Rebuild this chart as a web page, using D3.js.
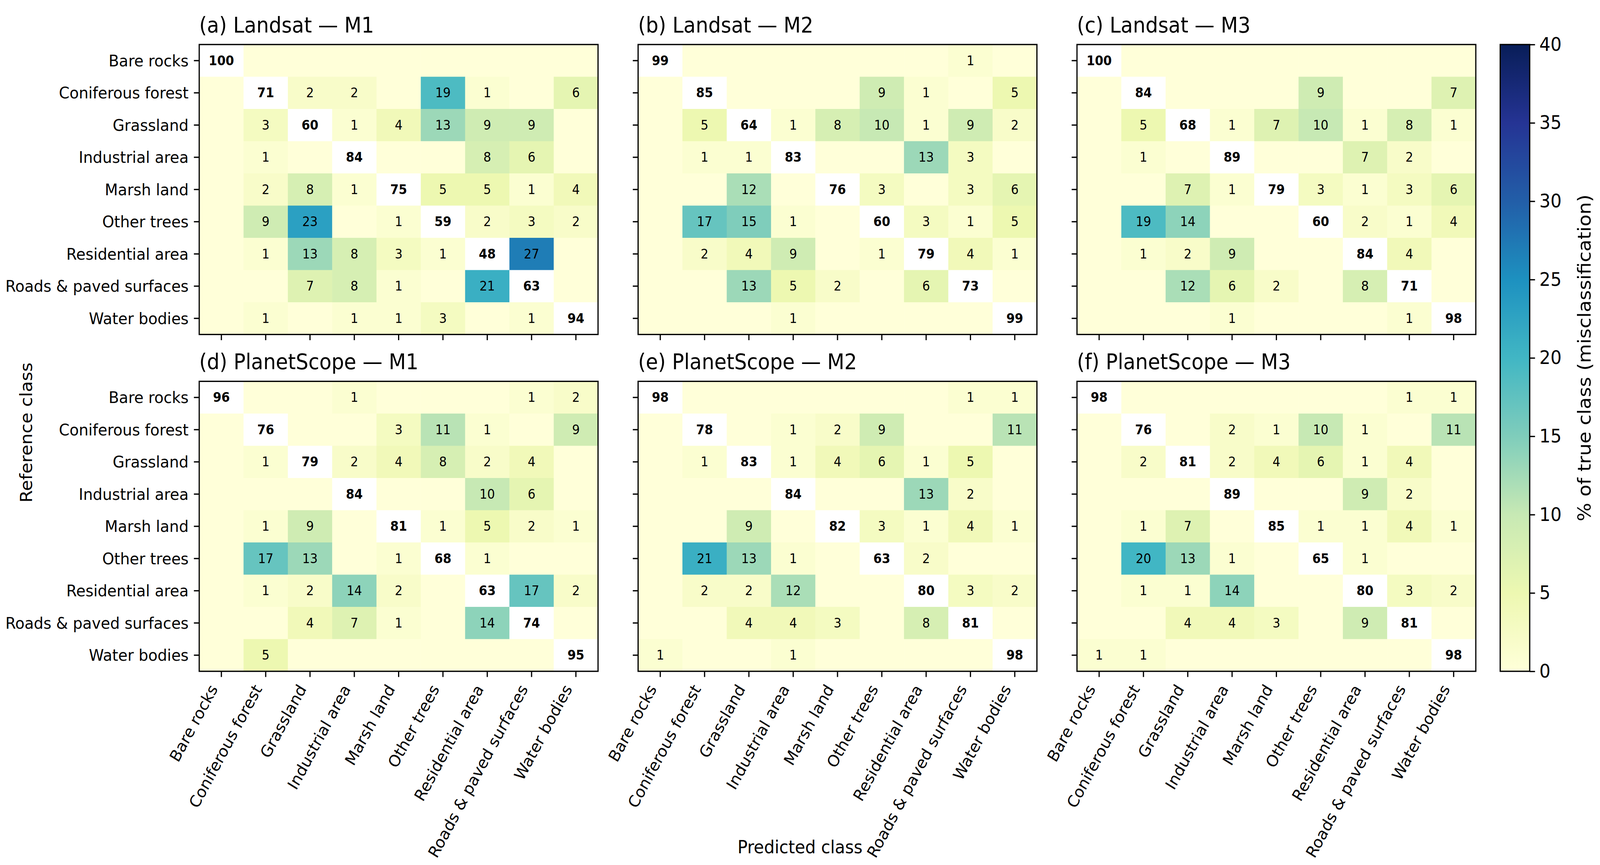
<!DOCTYPE html>
<html>
<head>
<meta charset="utf-8">
<script src="https://cdn.jsdelivr.net/npm/d3@7/dist/d3.min.js"></script>
<style>
  html, body { margin: 0; padding: 0; background: #ffffff; overflow: hidden; width: 100%; height: 100%; }
  svg { display: block; }
  text { font-family: "DejaVu Sans", sans-serif; fill: #000; }
</style>
</head>
<body>
<script>
// ---------------- DATA ----------------
const classes = ["Bare rocks", "Coniferous forest", "Grassland", "Industrial area", "Marsh land",
  "Other trees", "Residential area", "Roads & paved surfaces", "Water bodies"];

const panelTitles = ["(a) Landsat — M1", "(b) Landsat — M2", "(c) Landsat — M3",
  "(d) PlanetScope — M1", "(e) PlanetScope — M2", "(f) PlanetScope — M3"];

// rows = reference class, columns = predicted class (% of true class)
const landsatM1 = [
  [100, 0, 0, 0, 0, 0, 0, 0, 0],
  [0, 71, 2, 2, 0, 19, 1, 0, 6],
  [0, 3, 60, 1, 4, 13, 9, 9, 0],
  [0, 1, 0, 84, 0, 0, 8, 6, 0],
  [0, 2, 8, 1, 75, 5, 5, 1, 4],
  [0, 9, 23, 0, 1, 59, 2, 3, 2],
  [0, 1, 13, 8, 3, 1, 48, 27, 0],
  [0, 0, 7, 8, 1, 0, 21, 63, 0],
  [0, 1, 0, 1, 1, 3, 0, 1, 94]
];
const landsatM2 = [
  [99, 0, 0, 0, 0, 0, 0, 1, 0],
  [0, 85, 0, 0, 0, 9, 1, 0, 5],
  [0, 5, 64, 1, 8, 10, 1, 9, 2],
  [0, 1, 1, 83, 0, 0, 13, 3, 0],
  [0, 0, 12, 0, 76, 3, 0, 3, 6],
  [0, 17, 15, 1, 0, 60, 3, 1, 5],
  [0, 2, 4, 9, 0, 1, 79, 4, 1],
  [0, 0, 13, 5, 2, 0, 6, 73, 0],
  [0, 0, 0, 1, 0, 0, 0, 0, 99]
];
const landsatM3 = [
  [100, 0, 0, 0, 0, 0, 0, 0, 0],
  [0, 84, 0, 0, 0, 9, 0, 0, 7],
  [0, 5, 68, 1, 7, 10, 1, 8, 1],
  [0, 1, 0, 89, 0, 0, 7, 2, 0],
  [0, 0, 7, 1, 79, 3, 1, 3, 6],
  [0, 19, 14, 0, 0, 60, 2, 1, 4],
  [0, 1, 2, 9, 0, 0, 84, 4, 0],
  [0, 0, 12, 6, 2, 0, 8, 71, 0],
  [0, 0, 0, 1, 0, 0, 0, 1, 98]
];
const planetM1 = [
  [96, 0, 0, 1, 0, 0, 0, 1, 2],
  [0, 76, 0, 0, 3, 11, 1, 0, 9],
  [0, 1, 79, 2, 4, 8, 2, 4, 0],
  [0, 0, 0, 84, 0, 0, 10, 6, 0],
  [0, 1, 9, 0, 81, 1, 5, 2, 1],
  [0, 17, 13, 0, 1, 68, 1, 0, 0],
  [0, 1, 2, 14, 2, 0, 63, 17, 2],
  [0, 0, 4, 7, 1, 0, 14, 74, 0],
  [0, 5, 0, 0, 0, 0, 0, 0, 95]
];
const planetM2 = [
  [98, 0, 0, 0, 0, 0, 0, 1, 1],
  [0, 78, 0, 1, 2, 9, 0, 0, 11],
  [0, 1, 83, 1, 4, 6, 1, 5, 0],
  [0, 0, 0, 84, 0, 0, 13, 2, 0],
  [0, 0, 9, 0, 82, 3, 1, 4, 1],
  [0, 21, 13, 1, 0, 63, 2, 0, 0],
  [0, 2, 2, 12, 0, 0, 80, 3, 2],
  [0, 0, 4, 4, 3, 0, 8, 81, 0],
  [1, 0, 0, 1, 0, 0, 0, 0, 98]
];
const planetM3 = [
  [98, 0, 0, 0, 0, 0, 0, 1, 1],
  [0, 76, 0, 2, 1, 10, 1, 0, 11],
  [0, 2, 81, 2, 4, 6, 1, 4, 0],
  [0, 0, 0, 89, 0, 0, 9, 2, 0],
  [0, 1, 7, 0, 85, 1, 1, 4, 1],
  [0, 20, 13, 1, 0, 65, 1, 0, 0],
  [0, 1, 1, 14, 0, 0, 80, 3, 2],
  [0, 0, 4, 4, 3, 0, 9, 81, 0],
  [1, 1, 0, 0, 0, 0, 0, 0, 98]
];
const colorbarTicks = [0, 5, 10, 15, 20, 25, 30, 35, 40];
const colorMax = 40;
const xLabel = "Predicted class";
const yLabel = "Reference class";
const cbLabel = "% of true class (misclassification)";

// ---------------- LAYOUT / STYLE ----------------
const W = 4393, H = 2215;
const lefts = [547, 1752, 2957];
const tops = [114, 976.5];
const PW = 1095, PH = 742.5;
const cb = { x: 4119, w: 81, top: 114, bottom: 1719 };
const tickLen = 14.6, tickPad = 14.6, lw = 3.3;
const FS_TICK = 41.7, FS_CELL = 33.3, FS_TITLE = 54.5, FS_AXLAB = 45.8, FS_CB = 48, FS_CBLAB = 50;

const ylgnbu = ["#ffffd9", "#edf8b1", "#c7e9b4", "#7fcdbb", "#41b6c4", "#1d91c0", "#225ea8", "#253494", "#081d58"];
const color = d3.scaleLinear()
  .domain(ylgnbu.map((c, i) => i * colorMax / (ylgnbu.length - 1)))
  .range(ylgnbu).interpolate(d3.interpolateRgb).clamp(true);

// the drawing is laid out on a 4393×2215 canvas and scaled to fill the window
const svg = d3.select("body").append("svg")
  .attr("viewBox", `0 0 ${W} ${H}`)
  .attr("preserveAspectRatio", "none")
  .style("width", "100vw").style("height", "100vh");
svg.append("rect").attr("width", W).attr("height", H).attr("fill", "#ffffff");

const matrices = [landsatM1, landsatM2, landsatM3, planetM1, planetM2, planetM3];

matrices.forEach((mat, p) => {
  const col = p % 3, row = Math.floor(p / 3);
  const L = lefts[col], T = tops[row];
  const x = d3.scaleBand().domain(classes).range([L, L + PW]).padding(0);
  const y = d3.scaleBand().domain(classes).range([T, T + PH]).padding(0);
  const g = svg.append("g");

  const cells = mat.flatMap((r, i) => r.map((v, j) => ({ i, j, v })));
  g.selectAll("rect.cell").data(cells).join("rect")
    .attr("class", "cell")
    .attr("x", d => x(classes[d.j]))
    .attr("y", d => y(classes[d.i]))
    .attr("width", x.bandwidth() + 0.6)
    .attr("height", y.bandwidth() + 0.6)
    .attr("fill", d => d.i === d.j ? "#ffffff" : color(d.v));

  g.selectAll("text.val").data(cells.filter(d => d.v >= 1)).join("text")
    .attr("class", "val")
    .attr("x", d => x(classes[d.j]) + x.bandwidth() / 2)
    .attr("y", d => y(classes[d.i]) + y.bandwidth() / 2)
    .attr("text-anchor", "middle")
    .attr("dominant-baseline", "central")
    .attr("font-size", FS_CELL)
    .attr("font-weight", d => d.i === d.j ? "bold" : "normal")
    .text(d => d.v);

  g.append("rect").attr("x", L).attr("y", T).attr("width", PW).attr("height", PH)
    .attr("fill", "none").attr("stroke", "#000").attr("stroke-width", lw);

  const ya = g.append("g").attr("transform", `translate(${L},0)`)
    .call(d3.axisLeft(y).tickSize(tickLen).tickPadding(tickPad).tickSizeOuter(0));
  ya.select(".domain").remove();
  ya.selectAll(".tick line").attr("stroke", "#000").attr("stroke-width", lw);
  ya.selectAll(".tick text").attr("font-size", FS_TICK).attr("font-family", "DejaVu Sans")
    .attr("fill", "#000").attr("dy", "0.35em");
  if (col !== 0) ya.selectAll(".tick text").remove();

  const xa = g.append("g").attr("transform", `translate(0,${T + PH})`)
    .call(d3.axisBottom(x).tickSize(tickLen).tickSizeOuter(0).tickFormat(""));
  xa.select(".domain").remove();
  xa.selectAll(".tick line").attr("stroke", "#000").attr("stroke-width", lw);
  xa.selectAll(".tick text").remove();
  if (row === 1) {
    const a = 0.76 * FS_TICK, dsc = 0.24 * FS_TICK;
    const topY = T + PH + tickLen + tickPad;
    g.selectAll("text.xl").data(classes).join("text")
      .attr("class", "xl")
      .attr("transform", d => {
        const px = x(d) + x.bandwidth() / 2 - 0.866 * dsc;
        const py = topY + 0.5 * a;
        return `translate(${px},${py}) rotate(-60)`;
      })
      .attr("text-anchor", "end")
      .attr("font-size", FS_TICK)
      .text(d => d);
  }

  g.append("text").attr("x", L).attr("y", T - 31)
    .attr("font-size", FS_TITLE).attr("text-anchor", "start")
    .text(panelTitles[p]);
});

// ---------------- COLORBAR ----------------
const defs = svg.append("defs");
const grad = defs.append("linearGradient").attr("id", "cbgrad")
  .attr("x1", 0).attr("y1", 1).attr("x2", 0).attr("y2", 0);
d3.range(0, 41).forEach(k => {
  grad.append("stop").attr("offset", k / 40).attr("stop-color", color(k / 40 * colorMax));
});
const cbScale = d3.scaleLinear().domain([0, colorMax]).range([cb.bottom, cb.top]);
svg.append("rect").attr("x", cb.x).attr("y", cb.top).attr("width", cb.w)
  .attr("height", cb.bottom - cb.top).attr("fill", "url(#cbgrad)");
svg.append("rect").attr("x", cb.x).attr("y", cb.top).attr("width", cb.w)
  .attr("height", cb.bottom - cb.top).attr("fill", "none").attr("stroke", "#000").attr("stroke-width", lw);
const cba = svg.append("g").attr("transform", `translate(${cb.x + cb.w},0)`)
  .call(d3.axisRight(cbScale).tickValues(colorbarTicks).tickSize(tickLen).tickPadding(12).tickSizeOuter(0));
cba.select(".domain").remove();
cba.selectAll(".tick line").attr("stroke", "#000").attr("stroke-width", lw);
cba.selectAll(".tick text").attr("font-size", FS_CB).attr("font-family", "DejaVu Sans").attr("fill", "#000");

svg.append("text")
  .attr("transform", `translate(4367,${(cb.top + cb.bottom) / 2}) rotate(-90)`)
  .attr("text-anchor", "middle").attr("font-size", FS_CBLAB)
  .text(cbLabel);

// ---------------- FIGURE LABELS ----------------
svg.append("text").attr("x", W / 2).attr("y", 2185)
  .attr("text-anchor", "middle").attr("font-size", FS_AXLAB).text(xLabel);
svg.append("text")
  .attr("transform", `translate(88,${H / 2}) rotate(-90)`)
  .attr("text-anchor", "middle").attr("font-size", FS_AXLAB).text(yLabel);
</script>
</body>
</html>
